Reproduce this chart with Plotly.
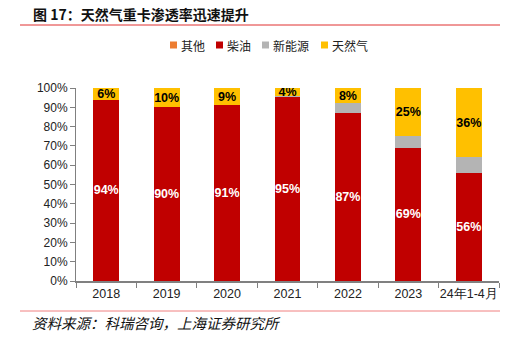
import plotly.graph_objects as go

categories = ["2018", "2019", "2020", "2021", "2022", "2023", "24年1-4月"]
other = [0, 0, 0, 0, 0, 0, 0]
diesel = [94, 90, 91, 95.4, 87, 69, 56]
new_energy = [0, 0, 0, 0.2, 5, 6, 8]
natural_gas = [6, 10, 9, 4.4, 8, 25, 36]
series_names = ["其他", "柴油", "新能源", "天然气"]
series_colors = ["#ED7D31", "#C00000", "#B4B4B4", "#FFC000"]

num_font = "Liberation Sans, Arial, sans-serif"
cjk_font = "Noto Sans CJK SC, sans-serif"

W, H = 505, 340
L, R, T, B = 76, 6, 88, 59
PW, PH = W - L - R, H - T - B

def px(x):
    return (x - L) / PW

def py(y):
    return (H - B - y) / PH

fig = go.Figure()

def label(vals, thresh):
    return [f"{v:.0f}%" if v >= thresh else "" for v in vals]

common = dict(textposition="inside", insidetextanchor="middle", textangle=0,
              constraintext="none", marker_line_width=0)

fig.add_trace(go.Bar(x=categories, y=other, name=series_names[0], marker_color=series_colors[0],
                     hoverinfo="skip", marker_line_width=0))
fig.add_trace(go.Bar(x=categories, y=diesel, name=series_names[1], marker_color=series_colors[1],
                     text=label(diesel, 1),
                     textfont=dict(color="white", size=12.5, family=num_font, weight="bold"),
                     **common))
fig.add_trace(go.Bar(x=categories, y=new_energy, name=series_names[2], marker_color=series_colors[2],
                     marker_line_width=0))
fig.add_trace(go.Bar(x=categories, y=natural_gas, name=series_names[3], marker_color=series_colors[3],
                     text=label(natural_gas, 1),
                     textfont=dict(color="black", size=12.5, family=num_font, weight="bold"),
                     **common))

fig.update_layout(
    barmode="stack",
    bargap=0.57,
    width=W, height=H,
    margin=dict(l=L, r=R, t=T, b=B, autoexpand=False),
    paper_bgcolor="white", plot_bgcolor="white",
    uniformtext=dict(minsize=12, mode="show"),
    showlegend=False,
    font=dict(family=num_font, size=12, color="#222"),
)
fig.update_yaxes(range=[0, 100], dtick=10, ticksuffix="%", showgrid=False,
                 showline=True, linecolor="#808080", linewidth=1,
                 ticks="outside", ticklen=5, tickcolor="#808080", automargin=False,
                 tickfont=dict(family=num_font, size=12, color="#222"), zeroline=False)
fig.update_xaxes(showline=True, linecolor="#808080", linewidth=1.5, tickangle=0, automargin=False,
                 ticks="outside", ticklen=5, tickcolor="#808080", tickson="boundaries",
                 tickfont=dict(family=num_font, size=12.5, color="#222"))

# manual legend
legend_x = [170, 216, 262, 321]
for name, color, lx in zip(series_names, series_colors, legend_x):
    fig.add_shape(type="rect", xref="paper", yref="paper",
                  x0=px(lx), x1=px(lx + 7), y0=py(41.5), y1=py(48.5),
                  line_width=0, fillcolor=color)
    fig.add_annotation(text=name, xref="paper", yref="paper", x=px(lx + 9), y=py(45),
                       xanchor="left", yanchor="middle", showarrow=False,
                       font=dict(family=cjk_font, size=12, color="#222"))

# title and rules
fig.add_annotation(text="<b>图 17：天然气重卡渗透率迅速提升</b>", xref="paper", yref="paper",
                   x=px(31), y=py(14), xanchor="left", yanchor="middle",
                   showarrow=False, font=dict(family=cjk_font, size=14, color="#111"))
fig.add_shape(type="line", xref="paper", yref="paper",
              x0=px(20), x1=px(500), y0=py(25), y1=py(25),
              line=dict(color="#E03030", width=1))
fig.add_shape(type="line", xref="paper", yref="paper",
              x0=px(20), x1=px(500), y0=py(311), y1=py(311),
              line=dict(color="#F08080", width=1))
fig.add_annotation(text="<i>资料来源：科瑞咨询，上海证券研究所</i>", xref="paper", yref="paper",
                   x=px(30), y=py(322), xanchor="left", yanchor="middle",
                   showarrow=False, font=dict(family=cjk_font, size=14.5, color="#111"))

fig.write_html("out.html")
